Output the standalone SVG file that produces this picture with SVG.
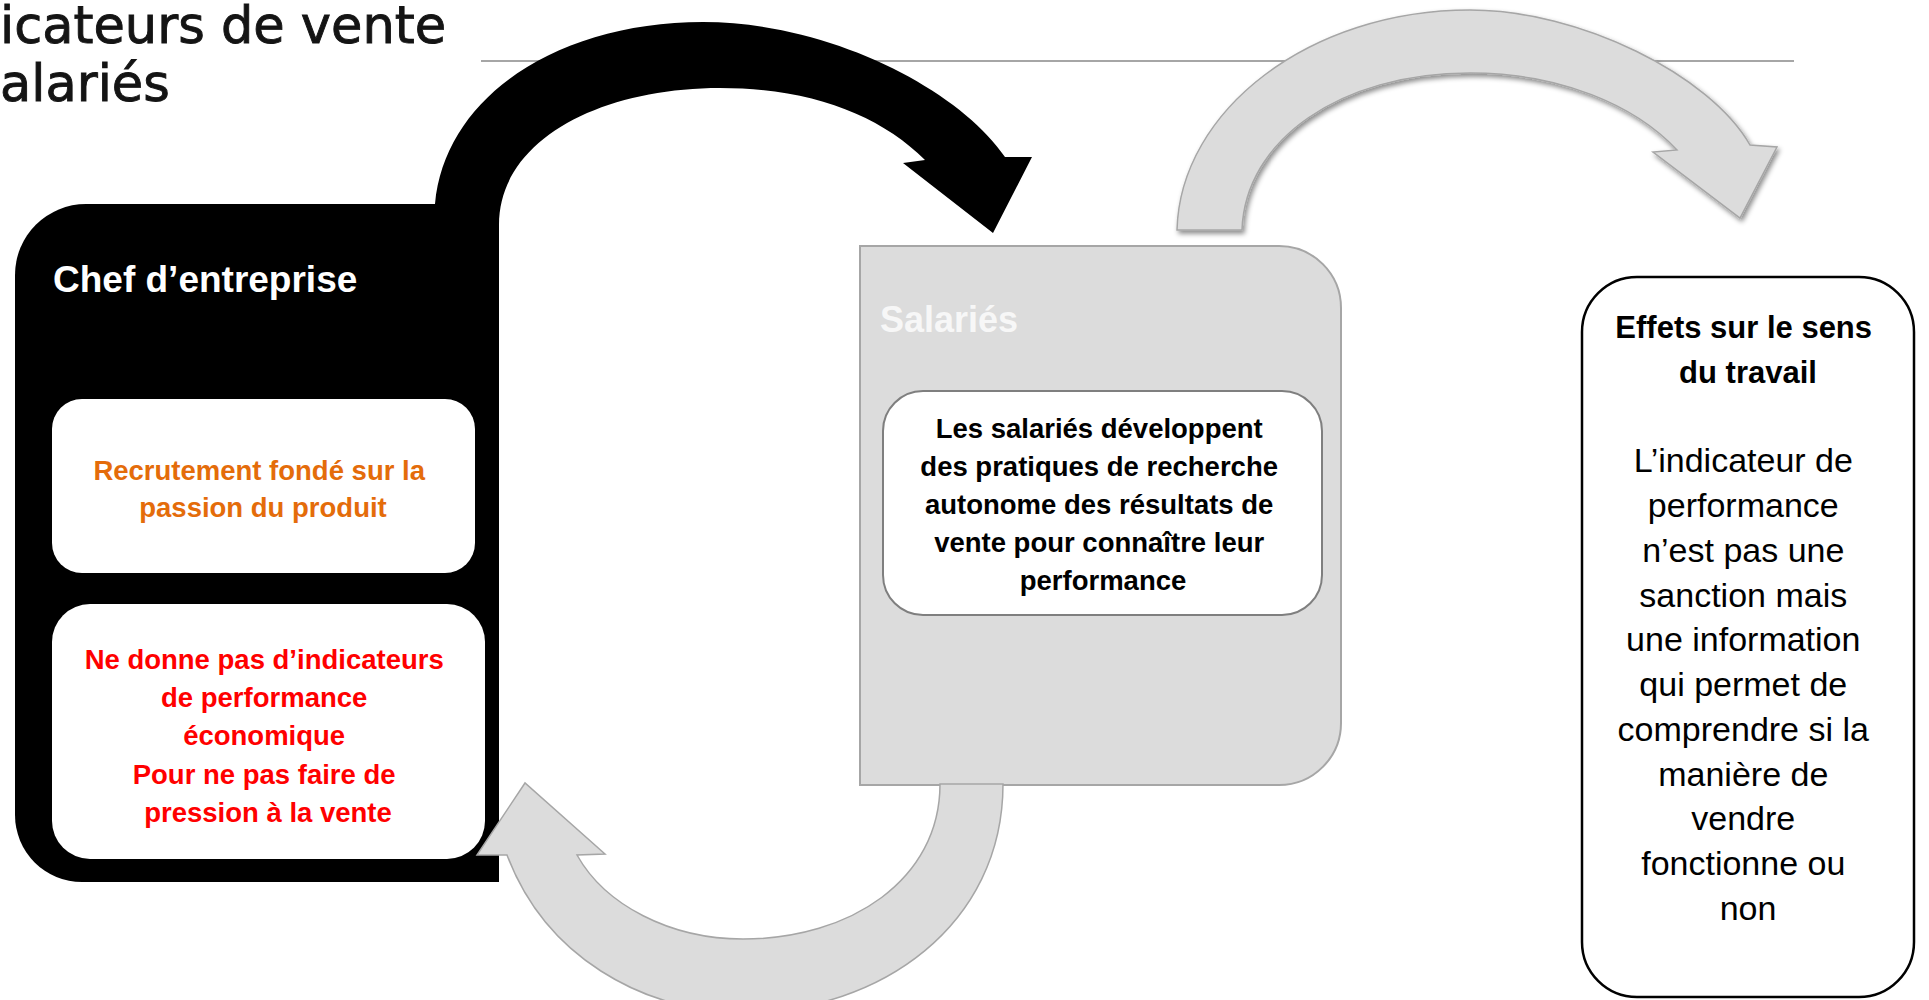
<svg xmlns="http://www.w3.org/2000/svg" width="1929" height="1000" viewBox="0 0 1929 1000">
  <defs>
    <style>
      .head { font-family: "DejaVu Sans", "Liberation Sans", sans-serif; font-size: 51px; fill: #141414; stroke: #141414; stroke-width: 0.9px; }
      .lbl { font-family: "Liberation Sans", Arial, sans-serif; font-weight: bold; }
      .mid { text-anchor: middle; }
      .small { font-size: 27.5px; }
      .body { font-family: "Liberation Sans", Arial, sans-serif; font-size: 34px; fill: #000; text-anchor: middle; }
      .grey-arrow { fill: #dcdcdc; stroke: #a6a6a6; stroke-width: 1.5; }
      .card { fill: #ffffff; }
    </style>
    <filter id="softShadow" x="-10%" y="-10%" width="125%" height="130%">
      <feDropShadow dx="2" dy="3" stdDeviation="2.5" flood-color="#000" flood-opacity="0.45"/>
    </filter>
  </defs>

  <rect width="1929" height="1000" fill="#ffffff"/>

  <!-- page heading and rule -->
  <g id="heading">
    <text class="head" x="0" y="43">icateurs de vente</text>
    <text class="head" x="0" y="101">alariés</text>
    <line x1="481" y1="61" x2="1794" y2="61" stroke="#a6a6a6" stroke-width="2"/>
  </g>

  <!-- Chef d'entreprise -->
  <g id="chef">
    <path d="M15,275 A71,71 0 0 1 86,204 L499,204 L499,882 L82,882 A67,67 0 0 1 15,815 Z" fill="#000"/>
    <text class="lbl" x="53" y="292" font-size="37" fill="#ffffff">Chef d’entreprise</text>
    <rect class="card" x="52" y="399" width="423" height="174" rx="30"/>
    <text class="lbl mid small" x="263" fill="#e46c0a">
      <tspan x="263" y="480">Recrutement fondé sur la</tspan>
      <tspan x="263" y="517">passion du produit</tspan>
    </text>
    <rect class="card" x="52" y="604" width="433" height="255" rx="38"/>
    <text class="lbl mid small" fill="#ff0000">
      <tspan x="268" y="669">Ne donne pas d’indicateurs</tspan>
      <tspan x="268" y="707">de performance</tspan>
      <tspan x="268" y="745">économique</tspan>
      <tspan x="268" y="784">Pour ne pas faire de</tspan>
      <tspan x="268" y="822">pression à la vente</tspan>
    </text>
  </g>

  <!-- Salariés -->
  <g id="salaries">
    <path d="M860,246 L1279,246 A62,62 0 0 1 1341,308 L1341,723 A62,62 0 0 1 1279,785 L860,785 Z" fill="#dcdcdc" stroke="#a6a6a6" stroke-width="2"/>
    <text class="lbl" x="880" y="332" font-size="36" fill="#f7f7f7">Salariés</text>
    <rect class="card" x="883" y="391" width="439" height="224" rx="40" stroke="#7f7f7f" stroke-width="2"/>
    <text class="lbl mid small" fill="#000">
      <tspan x="1103" y="438">Les salariés développent</tspan>
      <tspan x="1103" y="476">des pratiques de recherche</tspan>
      <tspan x="1103" y="514">autonome des résultats de</tspan>
      <tspan x="1103" y="552">vente pour connaître leur</tspan>
      <tspan x="1103" y="590">performance</tspan>
    </text>
  </g>

  <!-- Effets sur le sens du travail -->
  <g id="effets">
    <rect x="1582" y="277" width="332" height="720" rx="55" fill="#ffffff" stroke="#000" stroke-width="2.5"/>
    <text class="lbl mid" font-size="31" fill="#000">
      <tspan x="1748" y="338">Effets sur le sens</tspan>
      <tspan x="1748" y="383">du travail</tspan>
    </text>
    <text class="body">
      <tspan x="1748" y="472">L’indicateur de</tspan>
      <tspan x="1748" y="517">performance</tspan>
      <tspan x="1748" y="562">n’est pas une</tspan>
      <tspan x="1748" y="607">sanction mais</tspan>
      <tspan x="1748" y="651">une information</tspan>
      <tspan x="1748" y="696">qui permet de</tspan>
      <tspan x="1748" y="741">comprendre si la</tspan>
      <tspan x="1748" y="786">manière de</tspan>
      <tspan x="1748" y="830">vendre</tspan>
      <tspan x="1748" y="875">fonctionne ou</tspan>
      <tspan x="1748" y="920">non</tspan>
    </text>
  </g>

  <!-- curved arrows between the blocks -->
  <g id="connectors">
    <!-- chef -> salariés -->
    <path id="arrow-chef-salaries" fill="#000"
      d="M435,240 L435,204 C445,95 560,22 703,22 C830,22 960,90 1005,157 L1032,157 L993,233 L903,163 L925,160 C880,115 810,88 720,88 C600,88 499,140 499,225 L499,240 Z"/>
    <!-- salariés -> effets -->
    <path id="arrow-salaries-effets" class="grey-arrow" filter="url(#softShadow)" stroke-width="1"
      d="M1177,230 C1180,110 1310,10 1470,10 C1580,10 1710,75 1750,145 L1777,147 L1740,218 L1653,152 L1677,150 C1635,105 1560,73 1470,73 C1340,73 1245,140 1242,230 Z"/>
    <!-- salariés -> chef -->
    <path id="arrow-salaries-chef" class="grey-arrow"
      d="M940,784 L1003,784 C1003,925 880,1012 745,1012 C640,1012 545,955 507,855 L477,855 L525,783 L605,854 L577,855 C605,905 670,939 743,939 C850,939 940,880 940,784 Z"/>
  </g>
</svg>
